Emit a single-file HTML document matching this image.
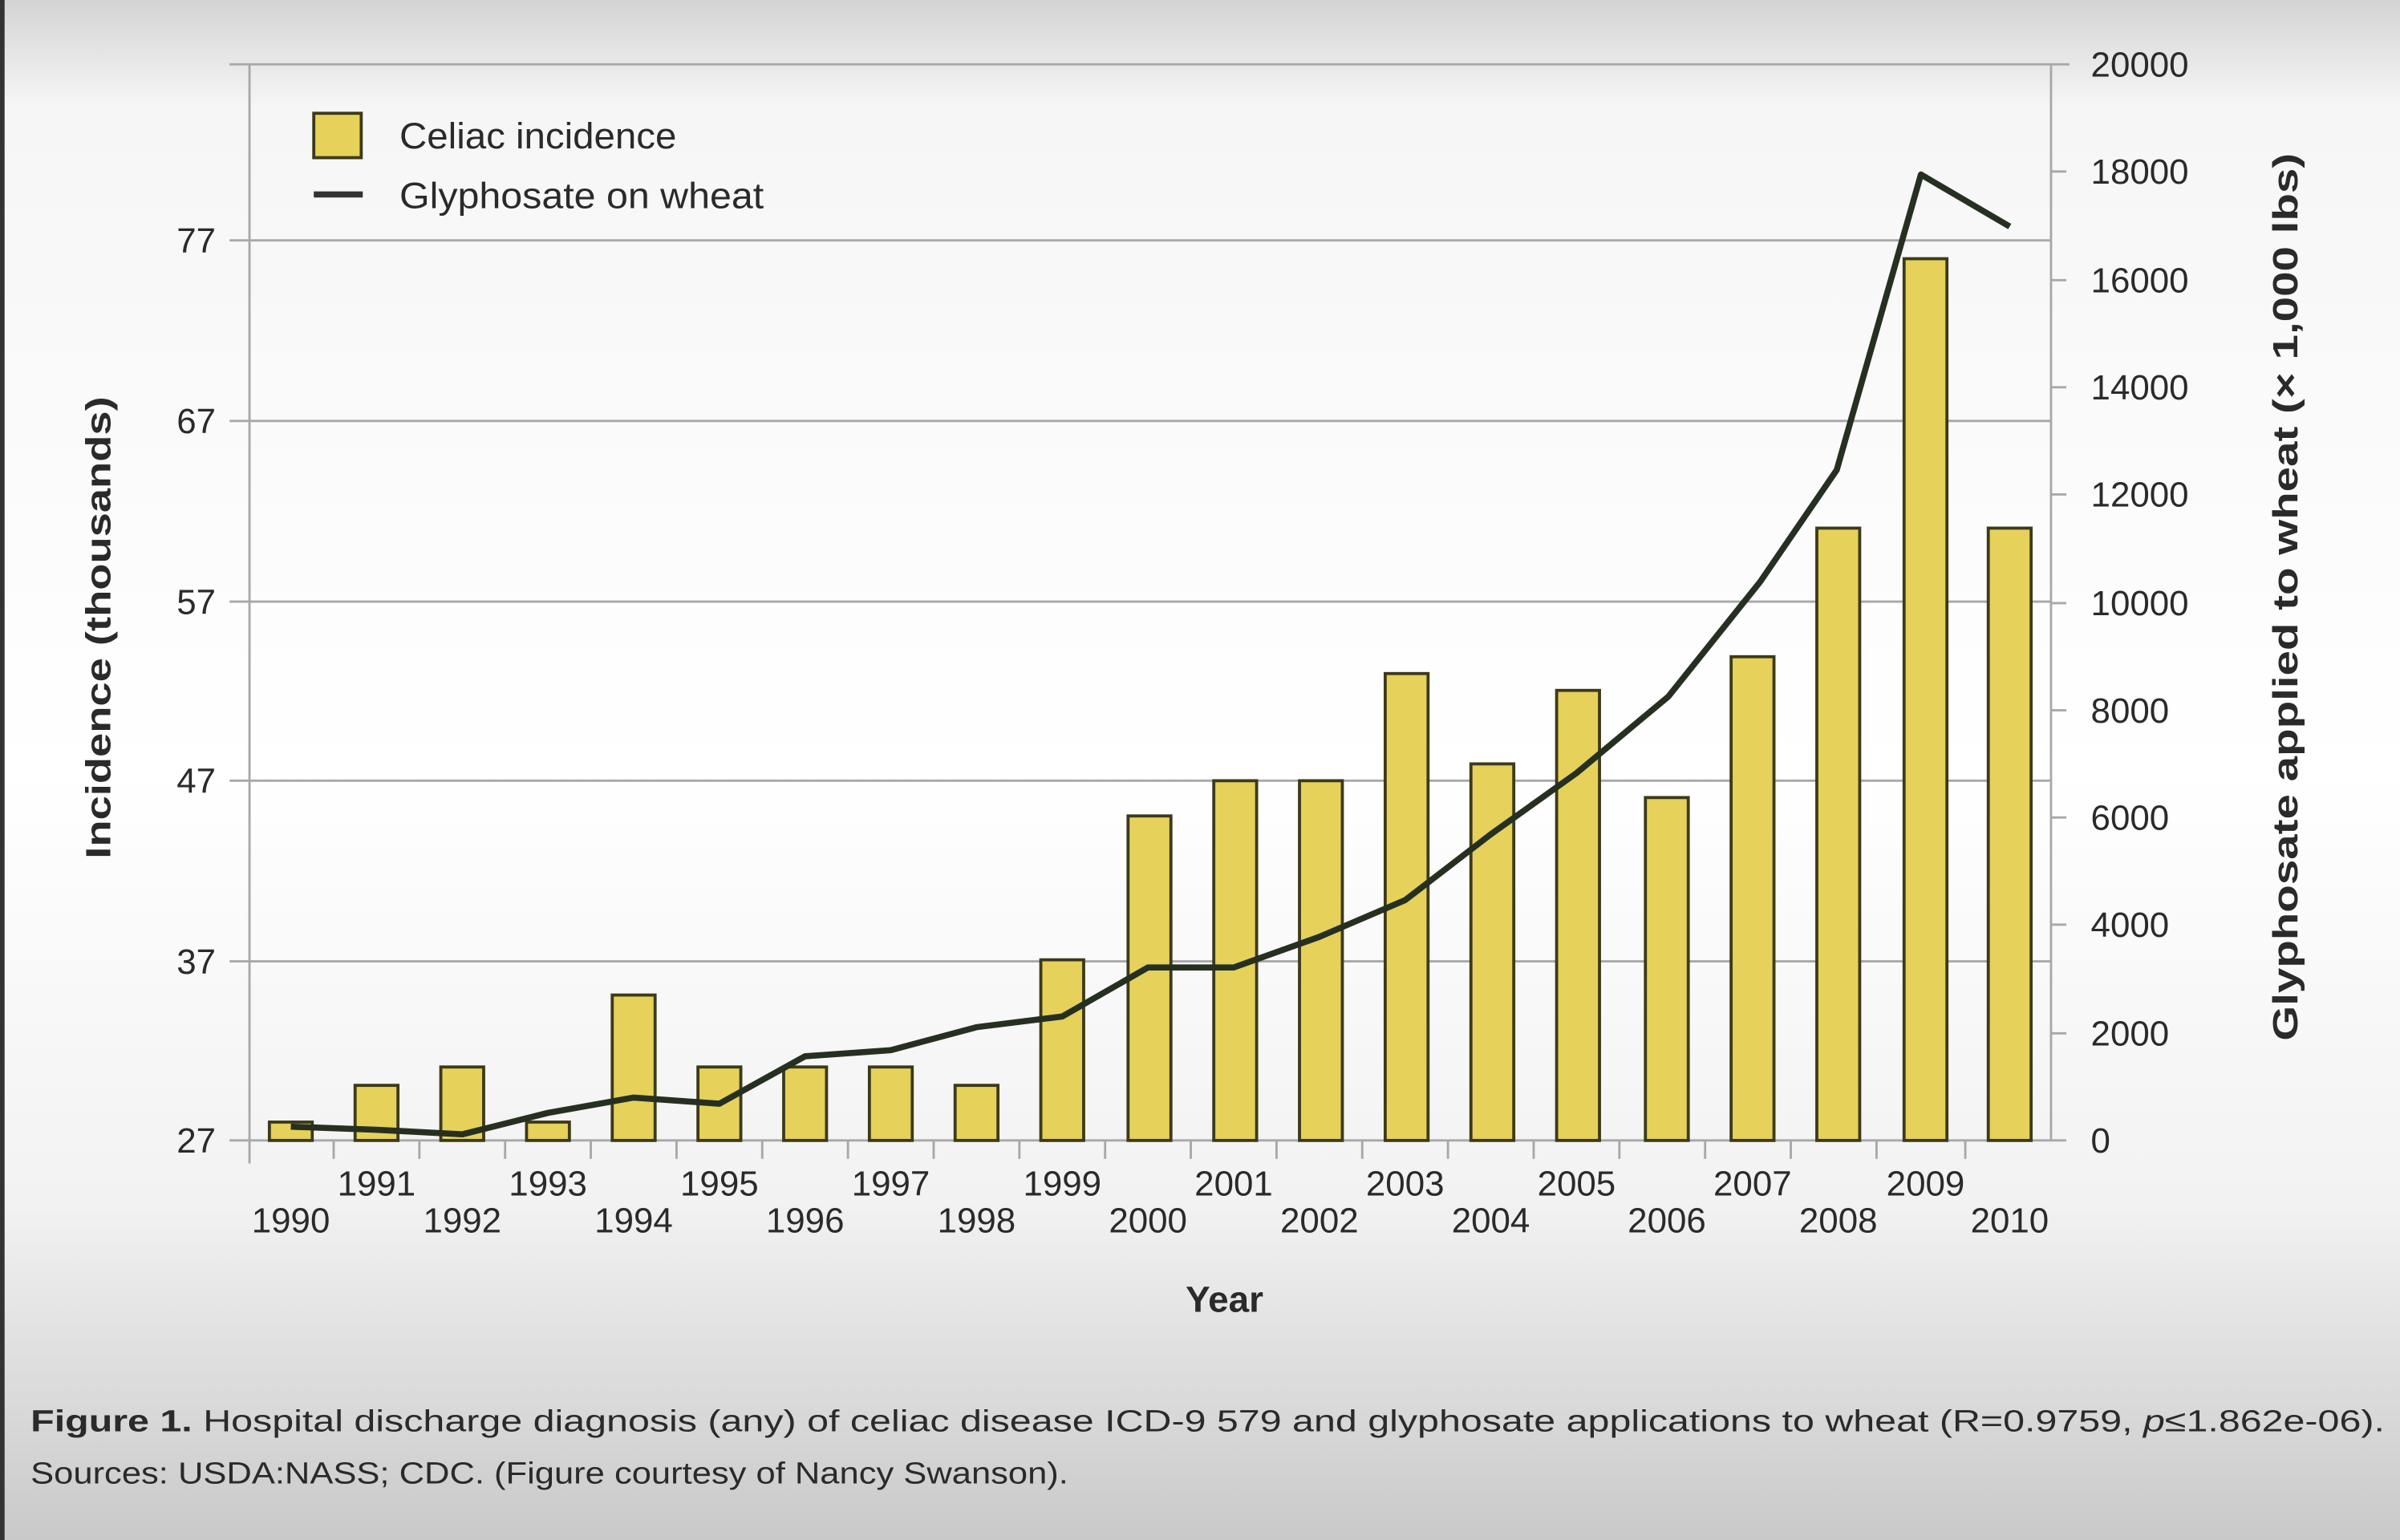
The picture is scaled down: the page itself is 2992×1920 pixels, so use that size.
<!DOCTYPE html>
<html><head><meta charset="utf-8"><style>
html,body{margin:0;padding:0;width:2992px;height:1920px;overflow:hidden;background:#fff}
svg{display:block}
text{font-family:"Liberation Sans",sans-serif;fill:#2a2a2a}
</style></head><body>
<svg width="2992" height="1920" viewBox="0 0 1568 1006" preserveAspectRatio="none">
<defs>
<linearGradient id="bg" x1="0" y1="0" x2="0" y2="1">
<stop offset="0" stop-color="#d4d4d4"/><stop offset="0.07" stop-color="#f6f6f6"/>
<stop offset="0.5" stop-color="#ffffff"/><stop offset="0.78" stop-color="#f2f2f2"/>
<stop offset="1" stop-color="#c9c9c9"/></linearGradient>
</defs>
<rect x="0" y="0" width="1568" height="1006" fill="url(#bg)"/>
<rect x="0" y="0" width="3" height="1006" fill="#333"/>
<g stroke="#a8a8a8" stroke-width="1.5">
<line x1="150" y1="42" x2="1352" y2="42"/>
<line x1="150" y1="157" x2="1340" y2="157"/>
<line x1="150" y1="275" x2="1340" y2="275"/>
<line x1="150" y1="393" x2="1340" y2="393"/>
<line x1="150" y1="510" x2="1340" y2="510"/>
<line x1="150" y1="628" x2="1340" y2="628"/>
<line x1="150" y1="745" x2="1340" y2="745"/>
<line x1="163" y1="42" x2="163" y2="760"/>
<line x1="1340" y1="42" x2="1340" y2="745"/>
<g>
<line x1="1340" y1="112" x2="1350" y2="112"/><line x1="1340" y1="183" x2="1350" y2="183"/>
<line x1="1340" y1="253" x2="1350" y2="253"/><line x1="1340" y1="323" x2="1350" y2="323"/>
<line x1="1340" y1="394" x2="1350" y2="394"/><line x1="1340" y1="464" x2="1350" y2="464"/>
<line x1="1340" y1="534" x2="1350" y2="534"/><line x1="1340" y1="604" x2="1350" y2="604"/>
<line x1="1340" y1="675" x2="1350" y2="675"/><line x1="1340" y1="745" x2="1350" y2="745"/>
</g>
<g>
<line x1="218" y1="745" x2="218" y2="757"/><line x1="274" y1="745" x2="274" y2="757"/>
<line x1="330" y1="745" x2="330" y2="757"/><line x1="386" y1="745" x2="386" y2="757"/>
<line x1="442" y1="745" x2="442" y2="757"/><line x1="498" y1="745" x2="498" y2="757"/>
<line x1="554" y1="745" x2="554" y2="757"/><line x1="610" y1="745" x2="610" y2="757"/>
<line x1="666" y1="745" x2="666" y2="757"/><line x1="722" y1="745" x2="722" y2="757"/>
<line x1="778" y1="745" x2="778" y2="757"/><line x1="834" y1="745" x2="834" y2="757"/>
<line x1="890" y1="745" x2="890" y2="757"/><line x1="946" y1="745" x2="946" y2="757"/>
<line x1="1002" y1="745" x2="1002" y2="757"/><line x1="1058" y1="745" x2="1058" y2="757"/>
<line x1="1114" y1="745" x2="1114" y2="757"/><line x1="1170" y1="745" x2="1170" y2="757"/>
<line x1="1226" y1="745" x2="1226" y2="757"/><line x1="1284" y1="745" x2="1284" y2="757"/>
</g>
</g>
<g fill="#e6d15a" stroke="#3d3a1a" stroke-width="2">
<rect x="176" y="733" width="28" height="12"/>
<rect x="232" y="709" width="28" height="36"/>
<rect x="288" y="697" width="28" height="48"/>
<rect x="344" y="733" width="28" height="12"/>
<rect x="400" y="650" width="28" height="95"/>
<rect x="456" y="697" width="28" height="48"/>
<rect x="512" y="697" width="28" height="48"/>
<rect x="568" y="697" width="28" height="48"/>
<rect x="624" y="709" width="28" height="36"/>
<rect x="680" y="627" width="28" height="118"/>
<rect x="737" y="533" width="28" height="212"/>
<rect x="793" y="510" width="28" height="235"/>
<rect x="849" y="510" width="28" height="235"/>
<rect x="905" y="440" width="28" height="305"/>
<rect x="961" y="499" width="28" height="246"/>
<rect x="1017" y="451" width="28" height="294"/>
<rect x="1075" y="521" width="28" height="224"/>
<rect x="1131" y="429" width="28" height="316"/>
<rect x="1187" y="345" width="28" height="400"/>
<rect x="1244" y="169" width="28" height="576"/>
<rect x="1299" y="345" width="28" height="400"/>
</g>
<polyline fill="none" stroke="#263020" stroke-width="4" stroke-linejoin="round" points="190,736 246,738 302,741 358,727 414,717 470,721 526,690 582,686 638,671 694,664 750,632 806,632 862,612 918,588 974,545 1030,505 1090,455 1150,380 1200,307 1255,114 1313,148"/>
<rect x="205" y="74" width="31" height="29" fill="#e6d15a" stroke="#3d3a1a" stroke-width="2"/>
<line x1="205" y1="127" x2="237" y2="127" stroke="#333" stroke-width="4"/>
<g font-size="24">
<text x="261" y="97" textLength="181" lengthAdjust="spacingAndGlyphs">Celiac incidence</text>
<text x="261" y="136" textLength="238" lengthAdjust="spacingAndGlyphs">Glyphosate on wheat</text>
</g>
<g font-size="23" text-anchor="end">
<text x="141" y="165">77</text><text x="141" y="283">67</text><text x="141" y="401">57</text>
<text x="141" y="518">47</text><text x="141" y="636">37</text><text x="141" y="753">27</text>
</g>
<g font-size="23">
<text x="1366" y="50">20000</text><text x="1366" y="120">18000</text><text x="1366" y="191">16000</text>
<text x="1366" y="261">14000</text><text x="1366" y="331">12000</text><text x="1366" y="402">10000</text>
<text x="1366" y="472">8000</text><text x="1366" y="542">6000</text><text x="1366" y="612">4000</text>
<text x="1366" y="683">2000</text><text x="1366" y="753">0</text>
</g>
<g font-size="23" text-anchor="middle">
<text x="246" y="781">1991</text><text x="358" y="781">1993</text><text x="470" y="781">1995</text>
<text x="582" y="781">1997</text><text x="694" y="781">1999</text><text x="806" y="781">2001</text>
<text x="918" y="781">2003</text><text x="1030" y="781">2005</text><text x="1145" y="781">2007</text>
<text x="1258" y="781">2009</text>
<text x="190" y="805">1990</text><text x="302" y="805">1992</text><text x="414" y="805">1994</text>
<text x="526" y="805">1996</text><text x="638" y="805">1998</text><text x="750" y="805">2000</text>
<text x="862" y="805">2002</text><text x="974" y="805">2004</text><text x="1089" y="805">2006</text>
<text x="1201" y="805">2008</text><text x="1313" y="805">2010</text>
</g>
<text x="800" y="857" font-size="24" font-weight="bold" text-anchor="middle">Year</text>
<text transform="translate(72,410) rotate(-90)" font-size="23" font-weight="bold" text-anchor="middle" textLength="302" lengthAdjust="spacingAndGlyphs">Incidence (thousands)</text>
<text transform="translate(1501,390) rotate(-90)" font-size="23" font-weight="bold" text-anchor="middle" textLength="580" lengthAdjust="spacingAndGlyphs">Glyphosate applied to wheat (× 1,000 lbs)</text>
<text x="20" y="935" font-size="20" textLength="1538" lengthAdjust="spacingAndGlyphs"><tspan font-weight="bold">Figure 1.</tspan> Hospital discharge diagnosis (any) of celiac disease ICD-9 579 and glyphosate applications to wheat (R=0.9759, <tspan font-style="italic">p</tspan>≤1.862e-06).</text>
<text x="20" y="969" font-size="20" textLength="678" lengthAdjust="spacingAndGlyphs">Sources: USDA:NASS; CDC. (Figure courtesy of Nancy Swanson).</text>
</svg>
</body></html>
